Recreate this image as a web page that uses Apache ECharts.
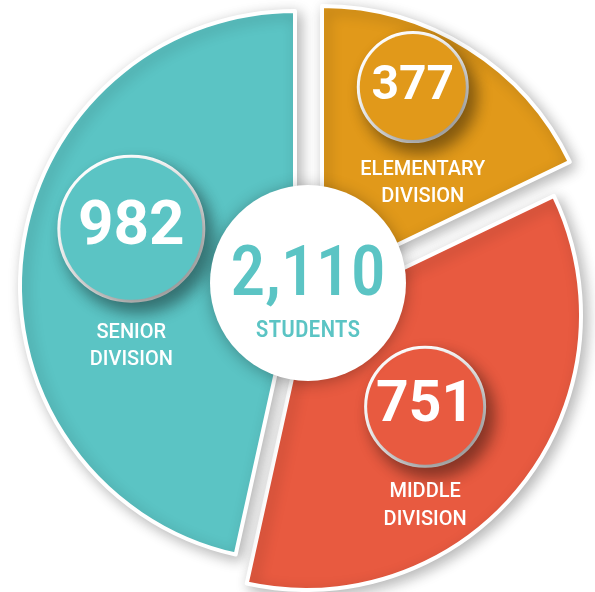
<!DOCTYPE html>
<html>
<head>
<meta charset="utf-8">
<script src="https://cdn.jsdelivr.net/npm/echarts@6/dist/echarts.min.js"></script>
<style>
  html, body { margin: 0; background: #fff; }
  #chart { width: 595px; height: 592px; }
</style>
</head>
<body>
<div id="chart"></div>
<script>
const divisions = ['ELEMENTARY\nDIVISION', 'MIDDLE\nDIVISION', 'SENIOR\nDIVISION'];
const students = [377, 751, 982];
const totalName = 'STUDENTS';

const colors = ['#E1991A', '#E85A40', '#5BC4C4'];
const narrow = "'Liberation Sans Narrow', 'Roboto Condensed', 'DejaVu Sans Condensed', sans-serif";

// the slices are pulled apart by hand in the original, so each one gets its own pie centre
const sliceCenters = [[322, 281], [306, 315], [295, 286]];
// number badge per slice
const badges = [
  { size: 106, font: 48, gap: 16, line: 27, pad: 20, dx: 16, dy: -40 },
  { size: 116, font: 57, gap: 13, line: 28, pad: 0, dx: 9, dy: 39 },
  { size: 142, font: 62, gap: 20, line: 27, pad: 0, dx: -24, dy: -5 }
];

const total = students.reduce((a, b) => a + b, 0);

function sliceSeries(i) {
  const b = badges[i];
  return {
    type: 'pie',
    center: sliceCenters[i],
    radius: 275,
    silent: true,
    animation: false,
    z: 2,
    labelLine: { show: false },
    labelLayout: { dx: b.dx, dy: b.dy },
    data: students.map((v, j) => {
      if (j !== i) {
        return { value: v, name: divisions[j], itemStyle: { color: 'transparent', borderWidth: 0 }, label: { show: false } };
      }
      return {
        value: v,
        name: divisions[j],
        itemStyle: {
          color: colors[j],
          borderColor: '#fff',
          borderWidth: 4,
          shadowBlur: 14,
          shadowColor: 'rgba(0,0,0,0.28)',
          shadowOffsetX: 4,
          shadowOffsetY: 4
        },
        label: {
          show: true,
          position: 'inside',
          formatter: '{n|' + v + '}\n{s| }\n' + divisions[j].split('\n').map(w => '{t|' + w + '}').join('\n'),
          rich: {
            n: {
              width: b.size, height: b.size, lineHeight: b.size,
              borderRadius: b.size / 2,
              backgroundColor: colors[j],
              borderColor: '#fff', borderWidth: 3,
              shadowBlur: 16, shadowColor: 'rgba(0,0,0,0.42)', shadowOffsetX: 7, shadowOffsetY: 9,
              fontFamily: 'Roboto', fontWeight: 'bold', fontSize: b.font,
              color: '#fff', align: 'center'
            },
            s: { fontSize: 2, lineHeight: b.gap },
            t: { fontFamily: 'Roboto', fontWeight: 500, fontSize: 20, lineHeight: b.line, color: '#fff', padding: [0, 0, 0, b.pad] }
          }
        }
      };
    })
  };
}

const chart = echarts.init(document.getElementById('chart'));

chart.setOption({
  backgroundColor: '#fff',
  series: [
    sliceSeries(0),
    sliceSeries(1),
    sliceSeries(2),
    {
      type: 'pie',
      center: [308, 283],
      radius: 98,
      silent: true,
      animation: false,
      z: 5,
      labelLine: { show: false },
      itemStyle: {
        color: '#fff',
        shadowBlur: 16,
        shadowColor: 'rgba(0,0,0,0.3)',
        shadowOffsetY: 2
      },
      label: {
        show: true,
        position: 'center',
        formatter: '{big|' + total.toLocaleString('en-US') + '}\n{small|' + totalName + '}',
        rich: {
          big: { fontFamily: narrow, fontWeight: 500, fontSize: 70, lineHeight: 96, color: '#5BC4C4' },
          small: { fontFamily: narrow, fontWeight: 500, fontSize: 24, lineHeight: 12, color: '#5BC4C4' }
        }
      },
      data: [{ value: total, name: totalName }]
    }
  ]
});
</script>
</body>
</html>
